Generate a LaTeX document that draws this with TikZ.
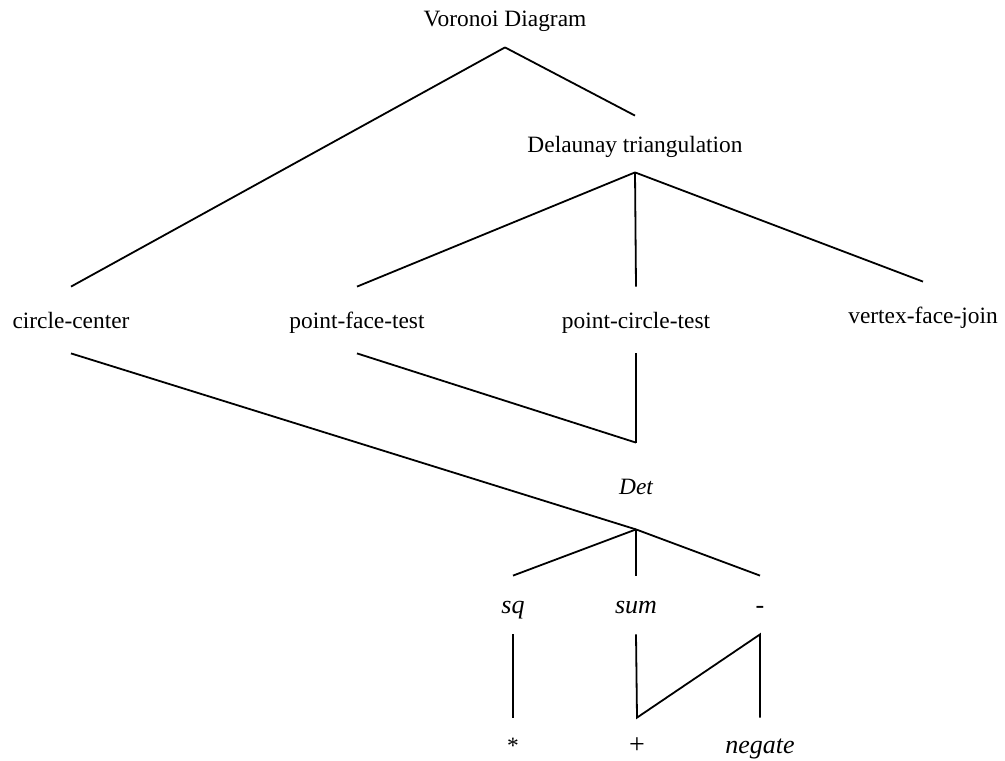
\documentclass[tikz,border=0pt]{standalone}
\usepackage{fontspec}
\setmainfont{Liberation Serif}

\begin{document}
\begin{tikzpicture}[
		x=0.5pt, y=-0.5pt,
		term/.style={anchor=base, inner xsep=0pt, inner ysep=10.5pt, text height=8pt, text depth=0pt, font=\fontsize{11.7}{14}\selectfont},
		op/.style={term, font=\fontsize{11.7}{14}\selectfont\itshape},
		leaf/.style={op, font=\fontsize{13}{15}\selectfont\itshape},
		edge/.style={line width=0.9pt}
		]
		\useasboundingbox (0,0) rectangle (1005,760);

		\node[term] (voronoi) at (505,26) {Voronoi Diagram};
		\node[term, inner ysep=10pt] (delaunay) at (635,152) {Delaunay triangulation};

		\node[term, inner ysep=12.5pt] (center) at (71,328) {circle-center};
		\node[term, inner ysep=12.5pt] (facetest) at (357,328) {point-face-test};
		\node[term, inner ysep=12.5pt] (circletest) at (636,328) {point-circle-test};
		\node[term, inner ysep=12.5pt] (facejoin) at (923,323) {vertex-face-join};

		\node[op, inner ysep=17.5pt] (det) at (636,494) {Det};

		\node[leaf] (sq) at (513,613) {sq};
		\node[leaf] (sum) at (636,613) {sum};
		\node[leaf] (minus) at (760,613) {-};

		\node[term, inner ysep=9.5pt] (times) at (513,753) {*};
		\node[term, inner ysep=9.5pt, font=\fontsize{14}{16}\selectfont] (plus) at (637,753) {+};
		\node[leaf, inner ysep=9.5pt] (negate) at (760,753) {negate};

		\draw[edge] (voronoi.south) -- (center.north);
		\draw[edge] (voronoi.south) -- (delaunay.north);
		\draw[edge] (delaunay.south) -- (facetest.north);
		\draw[edge] (delaunay.south) -- (circletest.north);
		\draw[edge] (delaunay.south) -- (facejoin.north);

		\draw[edge] (center.south) -- (det.south);
		\draw[edge] (facetest.south) -- (det.north);
		\draw[edge] (circletest.south) -- (det.north);

		\draw[edge] (det.south) -- (sq.north);
		\draw[edge] (det.south) -- (sum.north);
		\draw[edge] (det.south) -- (minus.north);

		\draw[edge] (sq.south) -- (times.north);
		\draw[edge] (sum.south) -- (plus.north) -- (minus.south) -- (negate.north);
	\end{tikzpicture}
\end{document}
